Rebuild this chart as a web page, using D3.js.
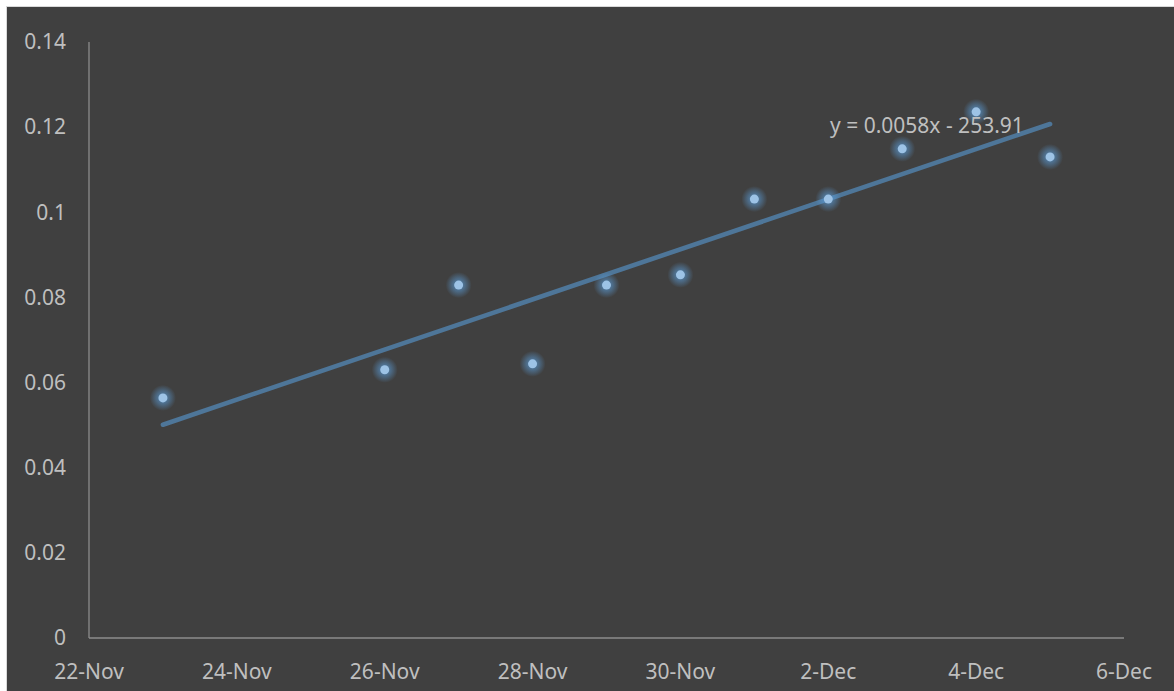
<!DOCTYPE html>
<html>
<head>
<meta charset="utf-8">
<script src="https://cdn.jsdelivr.net/npm/d3@7"></script>
<style>
  html, body { margin: 0; padding: 0; background: #ffffff; }
  svg { display: block; }
</style>
</head>
<body>
<svg id="chart" width="1174" height="691"></svg>
<script>
// Observation dates and measured values
const dates = ["2019-11-23", "2019-11-26", "2019-11-27", "2019-11-28", "2019-11-29",
               "2019-11-30", "2019-12-01", "2019-12-02", "2019-12-03", "2019-12-04", "2019-12-05"];
const values = [0.0564, 0.0630, 0.0829, 0.0644, 0.0829, 0.0853, 0.1031, 0.1031, 0.1149, 0.1236, 0.1130];
const yTicks = [0, 0.02, 0.04, 0.06, 0.08, 0.1, 0.12, 0.14];
const xTickDates = ["2019-11-22", "2019-11-24", "2019-11-26", "2019-11-28", "2019-11-30",
                    "2019-12-02", "2019-12-04", "2019-12-06"];
const equationLabel = "y = 0.0058x - 253.91";

const parse = d3.utcParse("%Y-%m-%d");
const points = dates.map((d, i) => ({ date: parse(d), value: values[i] }));

const svg = d3.select("#chart");
const W = 1174, H = 691;
const margin = { left: 89, right: 50, top: 42, bottom: 53 };

// chart area background with a thin light frame
svg.append("rect").attr("x", 0).attr("y", 0).attr("width", W).attr("height", H).attr("fill", "#ffffff");
svg.append("rect").attr("x", 6.5).attr("y", 6.5).attr("width", W).attr("height", H)
   .attr("fill", "#404040").attr("stroke", "#d9d9d9").attr("stroke-width", 1);

const x = d3.scaleUtc()
  .domain([parse(xTickDates[0]), parse(xTickDates[xTickDates.length - 1])])
  .range([margin.left, W - margin.right]);
const y = d3.scaleLinear()
  .domain([0, 0.14])
  .range([H - margin.bottom, margin.top]);

const font = "'Noto Sans', 'Open Sans', sans-serif";
const textColor = "#bfbfbf";
const fontSize = 21;

// axis lines
const axisColor = "#8c8c8c";
svg.append("line").attr("x1", x.range()[0]).attr("x2", x.range()[0])
   .attr("y1", y(0)).attr("y2", y(0.14)).attr("stroke", axisColor).attr("stroke-width", 1.3);
svg.append("line").attr("x1", x.range()[0]).attr("x2", x.range()[1])
   .attr("y1", y(0)).attr("y2", y(0)).attr("stroke", axisColor).attr("stroke-width", 1.3);

// y tick labels
const fmtY = d => d === 0 ? "0" : String(+d.toFixed(2));
svg.append("g").selectAll("text").data(yTicks).join("text")
   .attr("x", 66).attr("y", d => y(d)).attr("dy", "0.35em")
   .attr("text-anchor", "end").attr("fill", textColor)
   .attr("font-family", font).attr("font-size", fontSize)
   .text(fmtY);

// x tick labels
const fmtX = d3.utcFormat("%-d-%b");
svg.append("g").selectAll("text").data(xTickDates.map(parse)).join("text")
   .attr("x", d => x(d)).attr("y", 679)
   .attr("text-anchor", "middle").attr("fill", textColor)
   .attr("font-family", font).attr("font-size", fontSize)
   .text(fmtX);

// least-squares linear trend over the observations
const DAY = 86400000;
const t0 = points[0].date.getTime();
const xs = points.map(p => (p.date.getTime() - t0) / DAY);
const ys = points.map(p => p.value);
const mx = d3.mean(xs), my = d3.mean(ys);
const slope = d3.sum(xs, (v, i) => (v - mx) * (ys[i] - my)) / d3.sum(xs, v => (v - mx) ** 2);
const intercept = my - slope * mx;
const first = points[0].date, last = points[points.length - 1].date;
const trend = [first, last].map(d => ({ date: d, value: intercept + slope * (d.getTime() - t0) / DAY }));

svg.append("path")
   .datum(trend)
   .attr("d", d3.line().x(d => x(d.date)).y(d => y(d.value)))
   .attr("fill", "none").attr("stroke", "#4e7699").attr("stroke-width", 4.6)
   .attr("stroke-linecap", "round");

// glow for markers
const defs = svg.append("defs");
const grad = defs.append("radialGradient").attr("id", "glow");
grad.append("stop").attr("offset", "0%").attr("stop-color", "#5b9bd5").attr("stop-opacity", 0.85);
grad.append("stop").attr("offset", "50%").attr("stop-color", "#5b9bd5").attr("stop-opacity", 0.45);
grad.append("stop").attr("offset", "100%").attr("stop-color", "#5b9bd5").attr("stop-opacity", 0);

const marks = svg.append("g");
marks.selectAll("circle.glow").data(points).join("circle")
   .attr("class", "glow")
   .attr("cx", d => x(d.date)).attr("cy", d => y(d.value)).attr("r", 13)
   .attr("fill", "url(#glow)");
marks.selectAll("circle.dot").data(points).join("circle")
   .attr("class", "dot")
   .attr("cx", d => x(d.date)).attr("cy", d => y(d.value)).attr("r", 4.5)
   .attr("fill", "#9dc3e6");

// trend equation
svg.append("text")
   .attr("x", 830).attr("y", 133)
   .attr("fill", textColor).attr("font-family", font).attr("font-size", fontSize)
   .text(equationLabel);
</script>
</body>
</html>
